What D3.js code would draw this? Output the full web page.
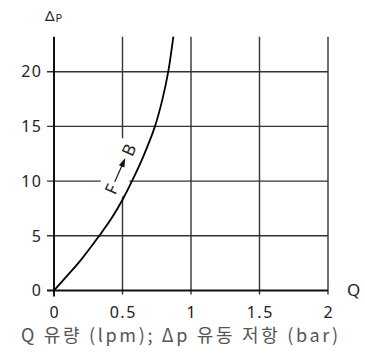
<!DOCTYPE html>
<html><head><meta charset="utf-8">
<script src="https://cdn.jsdelivr.net/npm/d3@7"></script>
<style>body{margin:0;background:#fff}svg{display:block}</style>
</head><body>
<svg id="c" width="365" height="354"></svg>
<script>
const qValues = [0, 0.1, 0.2, 0.33, 0.42, 0.5, 0.569, 0.65, 0.737, 0.79, 0.834, 0.871];
const dpValues = [0, 1.4, 2.85, 5, 6.6, 8.3, 10, 12.2, 15, 17.4, 20, 23.2];
const xTicks = [0, 0.5, 1, 1.5, 2];
const xTickLabels = ["0", "0.5", "1", "1.5", "2"];
const yTicks = [0, 5, 10, 15, 20];
const yTickLabels = ["0", "5", "10", "15", "20"];
const yMax = 23.2;
const title = "Q 유량 (lpm); Δp 유동 저항 (bar)";

const svg = d3.select("#c");
const x = d3.scaleLinear().domain([0, 2]).range([54, 328]);
const y = d3.scaleLinear().domain([0, 20]).range([290.5, 71.7]);
const font = "'Noto Sans CJK KR','Noto Sans',sans-serif";
const latin = "'Noto Sans',sans-serif";

// grid verticals
svg.append("g").selectAll("line").data(xTicks.slice(1)).join("line")
  .attr("x1", d => x(d)).attr("x2", d => x(d))
  .attr("y1", y(yMax)).attr("y2", y(0) + 4)
  .attr("stroke", "#333").attr("stroke-width", 1.4);
// grid horizontals
svg.append("g").selectAll("line").data(yTicks.slice(1)).join("line")
  .attr("x1", x(0) - 7).attr("x2", x(2))
  .attr("y1", d => y(d)).attr("y2", d => y(d))
  .attr("stroke", "#333").attr("stroke-width", 1.4);
// axes
svg.append("line").attr("x1", x(0)).attr("x2", x(0)).attr("y1", y(yMax)).attr("y2", y(0) + 6)
  .attr("stroke", "#111").attr("stroke-width", 2);
svg.append("line").attr("x1", x(0) - 7).attr("x2", x(2)).attr("y1", y(0)).attr("y2", y(0))
  .attr("stroke", "#111").attr("stroke-width", 2);

// tick labels
svg.append("g").selectAll("text").data(yTicks).join("text")
  .attr("x", 42.5).attr("y", d => y(d)).attr("dy", "0.36em")
  .attr("text-anchor", "end").attr("font-family", latin).attr("font-size", 16)
  .attr("letter-spacing", 1.5)
  .attr("fill", "#222").text((d, i) => yTickLabels[i]);
svg.append("g").selectAll("text").data(xTicks).join("text")
  .attr("x", d => x(d) + 0.75).attr("y", 317.5)
  .attr("text-anchor", "middle").attr("font-family", latin).attr("font-size", 16)
  .attr("letter-spacing", 1.5)
  .attr("fill", "#222").text((d, i) => xTickLabels[i]);

// axis labels
const yl = svg.append("text").attr("x", 45).attr("y", 21).attr("font-family", latin).attr("fill", "#222");
yl.append("tspan").attr("font-size", 15).text("Δ");
yl.append("tspan").attr("font-size", 11).attr("dx", 1).attr("dy", 1).text("P");
svg.append("text").attr("x", 347).attr("y", 296).attr("font-family", latin).attr("font-size", 17)
  .attr("fill", "#222").text("Q");
svg.append("text").attr("x", 21).attr("y", 342)
  .attr("textLength", 317).attr("lengthAdjust", "spacing")
  .attr("font-family", font).attr("font-size", 18).attr("fill", "#555").text(title);

// annotation F -> B
const g = svg.append("g").attr("transform", "translate(120,170) rotate(-66)");
g.append("rect").attr("x", -30).attr("y", -13).attr("width", 60).attr("height", 26).attr("fill", "#fff");
g.append("text").attr("x", -21).attr("y", 0).attr("dy", "0.36em").attr("text-anchor", "middle")
  .attr("font-family", latin).attr("font-size", 17).attr("fill", "#222").text("F");
g.append("text").attr("x", 22).attr("y", 0).attr("dy", "0.36em").attr("text-anchor", "middle")
  .attr("font-family", latin).attr("font-size", 17).attr("fill", "#222").text("B");
g.append("line").attr("x1", -13).attr("x2", 6).attr("y1", 0).attr("y2", 0)
  .attr("stroke", "#111").attr("stroke-width", 1.2);
g.append("path").attr("d", "M13,0 L4,-3 L4,3 Z").attr("fill", "#111");

// curve
const line = d3.line().x((d, i) => x(qValues[i])).y(d => y(d)).curve(d3.curveCatmullRom);
svg.append("path").attr("d", line(dpValues)).attr("fill", "none")
  .attr("stroke", "#000").attr("stroke-width", 1.8);
</script>
</body></html>
